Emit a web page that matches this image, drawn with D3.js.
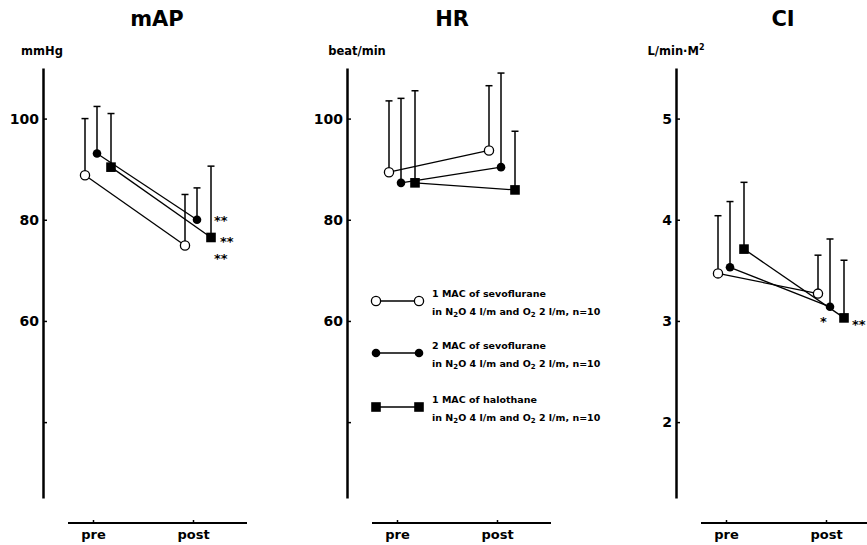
<!DOCTYPE html>
<html>
<head>
<meta charset="utf-8">
<script src="https://cdn.jsdelivr.net/npm/d3@7"></script>
<style>
  body { margin: 0; background: #fff; }
  svg { display: block; font-family: "DejaVu Sans", sans-serif; font-weight: bold; }
</style>
</head>
<body>
<svg width="867" height="545"></svg>
<script>
// *** Data ***
var phases = ["pre", "post"];
var seriesNames = ["1 MAC of sevoflurane", "2 MAC of sevoflurane", "1 MAC of halothane"];
var seriesMarkers = ["open", "filled", "square"];

// mean values [pre, post] per series
var mapMean = [[88.8, 74.9], [93.1, 80.0], [90.4, 76.5]];
var mapSD   = [[11.2, 10.1], [9.3, 6.3], [10.6, 14.1]];
var mapSig  = [["", "**"], ["", "**"], ["", "**"]];

var hrMean = [[89.4, 93.7], [87.3, 90.4], [87.3, 85.9]];
var hrSD   = [[14.1, 12.8], [16.7, 18.6], [18.2, 11.6]];
var hrSig  = [["", ""], ["", ""], ["", ""]];

var ciMean = [[3.47, 3.27], [3.53, 3.14], [3.71, 3.03]];
var ciSD   = [[0.57, 0.38], [0.65, 0.67], [0.66, 0.57]];
var ciSig  = [["", ""], ["", "*"], ["", "**"]];

var mapTicks = [40, 60, 80, 100];
var hrTicks = [40, 60, 80, 100];
var ciTicks = [2, 3, 4, 5];

// *** Layout ***
var svg = d3.select("svg");
var yTop = 68, yBottom = 498, xAxisY = 523;
var seriesOffset = [-8, 4, 18]; // horizontal stagger of the three groups

var panels = [
    { title: "mAP", titleDx: 114, unit: "mmHg", unitDx: -1, ox: 43, mean: mapMean, sd: mapSD, sig: mapSig,
      domain: [25, 110], ticks: mapTicks, fmt: function (d) { return d === 40 ? "" : d; },
      sigPos: [[29, 17], [17, 5], [9, 9]] },
    { title: "HR", titleDx: 105, unit: "beat/min", unitDx: 10, ox: 347, mean: hrMean, sd: hrSD, sig: hrSig,
      domain: [25, 110], ticks: hrTicks, fmt: function (d) { return d === 40 ? "" : d; },
      sigPos: [[0, 0], [0, 0], [0, 0]] },
    { title: "CI", titleDx: 107, unit: "L/min\u00b7M", sup: "2", unitDx: 0, ox: 676, mean: ciMean, sd: ciSD, sig: ciSig,
      domain: [1.25, 5.5], ticks: ciTicks, fmt: function (d) { return d; },
      sigPos: [[0, 0], [-10, 19], [8, 11]] }
];

panels.forEach(function (p) {
    var g = svg.append("g");

    var y = d3.scaleLinear().domain(p.domain).range([yBottom, yTop]);
    var x = d3.scalePoint().domain(phases).range([p.ox + 50, p.ox + 150]);

    // title + unit
    g.append("text")
        .attr("x", p.ox + p.titleDx).attr("y", 26)
        .attr("text-anchor", "middle")
        .style("font-size", "21px")
        .text(p.title);

    var unit = g.append("text")
        .attr("x", p.ox + p.unitDx).attr("y", 55)
        .attr("text-anchor", "middle")
        .style("font-size", "11.5px")
        .text(p.unit);
    if (p.sup) {
        unit.append("tspan").attr("dy", -5).style("font-size", "8px").text(p.sup);
    }

    // y axis
    var yAxis = d3.axisLeft(y)
        .tickValues(p.ticks)
        .tickFormat(p.fmt)
        .tickSizeInner(-4)
        .tickSizeOuter(0)
        .tickPadding(4);

    var ya = g.append("g")
        .attr("transform", "translate(" + p.ox + ",0)")
        .call(yAxis);
    ya.select(".domain").attr("stroke-width", 2.5);
    ya.selectAll(".tick line").attr("stroke-width", 1.5);
    ya.selectAll(".tick text")
        .style("font-family", "DejaVu Sans, sans-serif")
        .style("font-weight", "bold")
        .style("font-size", "14px")
        .attr("fill", "#000");

    // x axis
    var xAxis = d3.axisBottom(x)
        .tickSizeInner(-3)
        .tickSizeOuter(0)
        .tickPadding(7);
    var xa = g.append("g")
        .attr("transform", "translate(0," + xAxisY + ")")
        .call(xAxis);
    xa.select(".domain").remove();
    xa.append("line")
        .attr("x1", p.ox + 25).attr("x2", p.ox + 204)
        .attr("stroke", "#000").attr("stroke-width", 2);
    xa.selectAll(".tick line").attr("stroke-width", 1.5);
    xa.selectAll(".tick text")
        .style("font-family", "DejaVu Sans, sans-serif")
        .style("font-weight", "bold")
        .style("font-size", "13px")
        .attr("fill", "#000");

    // series
    seriesNames.forEach(function (name, s) {
        var pts = phases.map(function (ph, i) {
            return { px: x(ph) + seriesOffset[s], m: p.mean[s][i], sd: p.sd[s][i], sig: p.sig[s][i] };
        });

        // error bars (upper only)
        pts.forEach(function (d) {
            g.append("line")
                .attr("x1", d.px).attr("x2", d.px)
                .attr("y1", y(d.m)).attr("y2", y(d.m + d.sd))
                .attr("stroke", "#000").attr("stroke-width", 1.5);
            g.append("line")
                .attr("x1", d.px - 3.5).attr("x2", d.px + 3.5)
                .attr("y1", y(d.m + d.sd)).attr("y2", y(d.m + d.sd))
                .attr("stroke", "#000").attr("stroke-width", 1.5);
        });

        // connecting line
        g.append("line")
            .attr("x1", pts[0].px).attr("y1", y(pts[0].m))
            .attr("x2", pts[1].px).attr("y2", y(pts[1].m))
            .attr("stroke", "#000").attr("stroke-width", 1.3);

        // markers
        pts.forEach(function (d) {
            drawMarker(g, seriesMarkers[s], d.px, y(d.m));
        });

        // significance stars
        pts.forEach(function (d) {
            if (!d.sig) return;
            g.append("text")
                .attr("x", d.px + p.sigPos[s][0])
                .attr("y", y(d.m) + p.sigPos[s][1])
                .style("font-size", "13px")
                .text(d.sig);
        });
    });
});

function drawMarker(g, type, cx, cy) {
    if (type === "open") {
        g.append("circle").attr("cx", cx).attr("cy", cy).attr("r", 4.6)
            .attr("fill", "#fff").attr("stroke", "#000").attr("stroke-width", 1.3);
    } else if (type === "filled") {
        g.append("circle").attr("cx", cx).attr("cy", cy).attr("r", 4.3)
            .attr("fill", "#000");
    } else {
        g.append("rect").attr("x", cx - 4.8).attr("y", cy - 4.8)
            .attr("width", 9.6).attr("height", 9.6).attr("fill", "#000");
    }
}

// *** Legend ***
var legendRows = [301, 353, 407];
var legend = svg.append("g");
seriesNames.forEach(function (name, s) {
    var ry = legendRows[s];
    legend.append("line")
        .attr("x1", 376).attr("x2", 419)
        .attr("y1", ry).attr("y2", ry)
        .attr("stroke", "#000").attr("stroke-width", 1.3);
    drawMarker(legend, seriesMarkers[s], 376, ry);
    drawMarker(legend, seriesMarkers[s], 419, ry);

    legend.append("text")
        .attr("x", 432).attr("y", ry - 4)
        .style("font-size", "9.5px")
        .text(name);

    var t2 = legend.append("text")
        .attr("x", 432).attr("y", ry + 14)
        .style("font-size", "9.5px");
    t2.append("tspan").text("in N");
    t2.append("tspan").attr("dy", 2).style("font-size", "7px").text("2");
    t2.append("tspan").attr("dy", -2).text("O 4 l/m and O");
    t2.append("tspan").attr("dy", 2).style("font-size", "7px").text("2");
    t2.append("tspan").attr("dy", -2).text(" 2 l/m, n=10");
});
</script>
</body>
</html>
